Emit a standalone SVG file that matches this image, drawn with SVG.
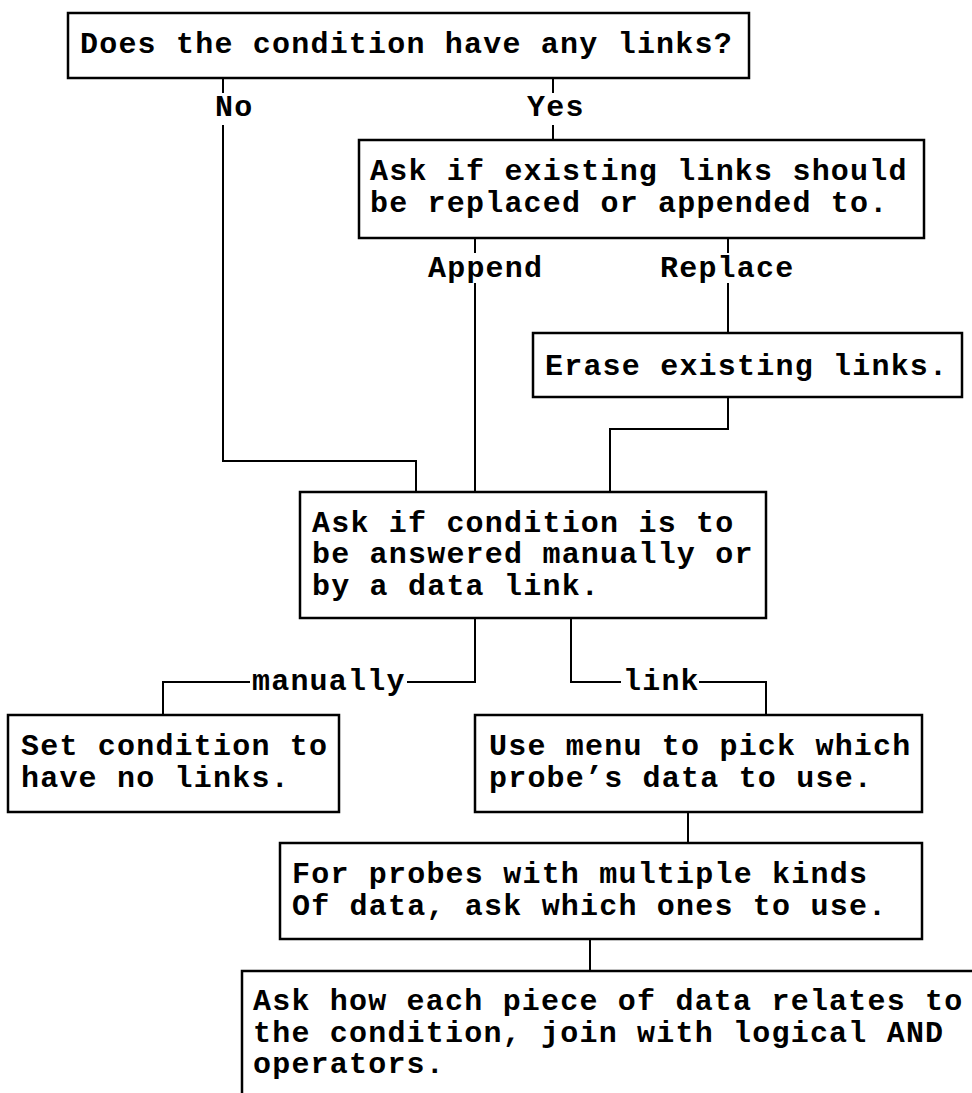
<svg xmlns="http://www.w3.org/2000/svg" width="972" height="1093" viewBox="0 0 972 1093">
  <style>
    .box { fill: #ffffff; stroke: #000000; stroke-width: 2.5; }
    .wire { fill: none; stroke: #000000; stroke-width: 2; }
    text { font-family: "Liberation Mono", "Courier New", monospace; font-size: 30px; letter-spacing: 1.2px; font-weight: bold; fill: #000000; }
  </style>
  <rect width="972" height="1093" fill="#ffffff"/>

  <!-- connectors -->
  <g id="connectors">
    <!-- No branch -->
    <path class="wire" d="M223 78 V93"/>
    <path class="wire" d="M223 125 V461 H416 V492"/>
    <!-- Yes branch -->
    <path class="wire" d="M553 78 V93"/>
    <path class="wire" d="M553 125 V140"/>
    <!-- Append branch -->
    <path class="wire" d="M475 238 V253"/>
    <path class="wire" d="M475 283 V492"/>
    <!-- Replace branch -->
    <path class="wire" d="M728 238 V253"/>
    <path class="wire" d="M728 283 V333"/>
    <!-- after erase -->
    <path class="wire" d="M728 397 V429 H610 V492"/>
    <!-- manually branch -->
    <path class="wire" d="M475 618 V682 H407"/>
    <path class="wire" d="M250 682 H163 V715"/>
    <!-- link branch -->
    <path class="wire" d="M571 618 V682 H621"/>
    <path class="wire" d="M699 682 H766 V715"/>
    <!-- menu to probe kinds -->
    <path class="wire" d="M688 812 V843"/>
    <!-- probe kinds to relation -->
    <path class="wire" d="M590 939 V971"/>

    <text x="215" y="116">No</text>
    <text x="527" y="116">Yes</text>
    <text x="428" y="277">Append</text>
    <text x="660" y="277">Replace</text>
    <text x="252" y="690">manually</text>
    <text x="623" y="690">link</text>
  </g>

  <g id="node-has-links">
    <rect class="box" x="68" y="13" width="681" height="65"/>
    <text x="80" y="53">Does the condition have any links?</text>
  </g>

  <g id="node-replace-or-append">
    <rect class="box" x="359" y="140" width="565" height="98"/>
    <text x="370" y="180">Ask if existing links should</text>
    <text x="370" y="212">be replaced or appended to.</text>
  </g>

  <g id="node-erase">
    <rect class="box" x="533" y="333" width="429" height="64"/>
    <text x="545" y="375">Erase existing links.</text>
  </g>

  <g id="node-manual-or-link">
    <rect class="box" x="300" y="492" width="466" height="126"/>
    <text x="312" y="532">Ask if condition is to</text>
    <text x="312" y="563">be answered manually or</text>
    <text x="312" y="595">by a data link.</text>
  </g>

  <g id="node-no-links">
    <rect class="box" x="8" y="715" width="331" height="97"/>
    <text x="21" y="755">Set condition to</text>
    <text x="21" y="787">have no links.</text>
  </g>

  <g id="node-pick-probe">
    <rect class="box" x="475" y="715" width="447" height="97"/>
    <text x="489" y="755">Use menu to pick which</text>
    <text x="489" y="787">probe’s data to use.</text>
  </g>

  <g id="node-data-kinds">
    <rect class="box" x="280" y="843" width="642" height="96"/>
    <text x="292" y="883">For probes with multiple kinds</text>
    <text x="292" y="915">Of data, ask which ones to use.</text>
  </g>

  <g id="node-relations">
    <rect class="box" x="242" y="971" width="760" height="140"/>
    <text x="253" y="1010">Ask how each piece of data relates to</text>
    <text x="253" y="1042">the condition, join with logical AND</text>
    <text x="253" y="1073">operators.</text>
  </g>
</svg>
